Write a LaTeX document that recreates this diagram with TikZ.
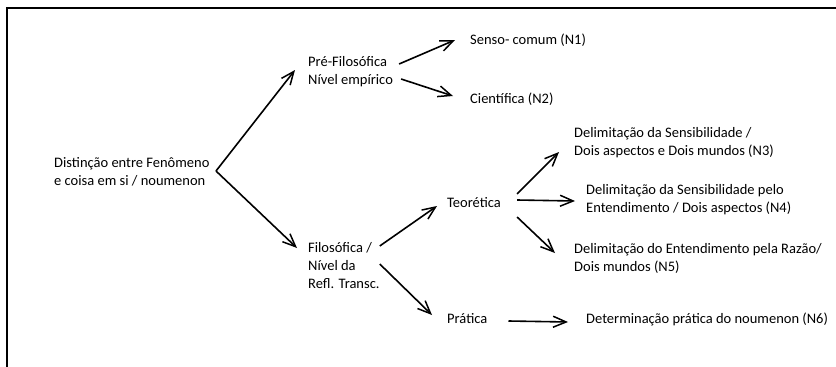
\documentclass[tikz,border=0pt]{standalone}
\usepackage{fontspec}
\setmainfont{Carlito}
\usetikzlibrary{arrows.meta}

\tikzset{
  txt/.style={anchor=west, inner sep=0pt, align=left, font=\fontsize{14.5}{18}\selectfont},
  arr/.style={line width=1.6pt, -{Straight Barb[length=13pt,width=11pt,line width=1.5pt]}}
}

\begin{document}
\begin{tikzpicture}[x=1pt,y=-1pt]
  \useasboundingbox (0,0) rectangle (836,367);
  \draw [line width=2pt] (7,367) -- (7,8) -- (836,8);

  % levels
  \node [txt] (root) at (54,172) {Distinção entre Fenômeno\\e coisa em si / noumenon};
  \coordinate (fork) at (216,171);
  \node [txt] (pre) at (308,72) {Pré-Filosófica\\Nível empírico};
  \node [txt] (fil) at (308,266) {Filosófica /\\Nível da\\Refl. Transc.};
  \node [txt] (senso) at (470,40) {Senso- comum (N1)};
  \node [txt] (cien) at (470,99) {Científica (N2)};
  \node [txt] (teo) at (447,203) {Teorética};
  \node [txt] (prat) at (447,319) {Prática};
  \node [txt] (n3) at (574,143) {Delimitação da Sensibilidade /\\Dois aspectos e Dois mundos (N3)};
  \node [txt] (n4) at (586,200) {Delimitação da Sensibilidade pelo\\Entendimento / Dois aspectos (N4)};
  \node [txt] (n5) at (574,258) {Delimitação do Entendimento pela Razão/\\Dois mundos (N5)};
  \node [txt] (n6) at (586,319) {Determinação prática do noumenon (N6)};

  \draw [arr] (fork) -- ([shift={(-13pt,2pt)}]pre.west);
  \draw [arr] (fork) -- ([shift={(-11pt,18pt)}]fil.west);
  \draw [arr] ([shift={(6pt,8pt)}]pre.east) -- ([xshift=-15pt]senso.west);
  \draw [arr] ([shift={(8pt,-7pt)}]pre.east) -- ([shift={(-17pt,3pt)}]cien.west);
  \draw [arr] ([yshift=20pt]fil.east) -- ([shift={(-10pt,-3pt)}]teo.west);
  \draw [arr] ([yshift=2pt]fil.east) -- ([shift={(-15pt,4pt)}]prat.west);
  \draw [arr] ([shift={(16pt,9pt)}]teo.east) -- ([shift={(-15pt,-9pt)}]n3.west);
  \draw [arr] ([shift={(16pt,3pt)}]teo.east) -- ([shift={(-11pt,-1pt)}]n4.west);
  \draw [arr] ([shift={(16pt,-14pt)}]teo.east) -- ([shift={(-19pt,5pt)}]n5.west);
  \draw [arr] ([shift={(21pt,-2pt)}]prat.east) -- ([shift={(-18pt,-3pt)}]n6.west);
\end{tikzpicture}
\end{document}
